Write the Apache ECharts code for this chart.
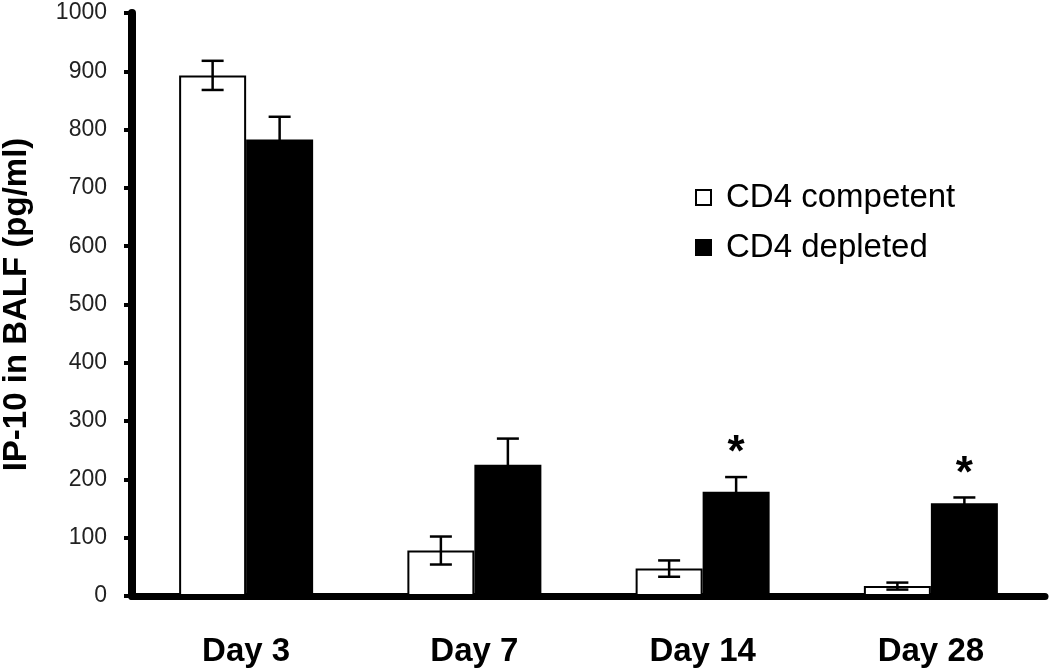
<!DOCTYPE html>
<html>
<head>
<meta charset="utf-8">
<script src="https://cdn.jsdelivr.net/npm/echarts@6/dist/echarts.min.js"></script>
<style>html,body{margin:0;padding:0;background:#fff;}#c{width:1050px;height:669px;}</style>
</head>
<body>
<div id="c"></div>
<script>
var categories = ['Day 3', 'Day 7', 'Day 14', 'Day 28'];
var competentMean = [893, 78, 47, 17];
var competentErr = [25, 24, 14, 6];
var depletedMean = [783, 225, 179, 159];
var depletedErr = [39, 45, 25, 10];
var depletedSig = [0, 0, 1, 1];
var yTicks = [0, 100, 200, 300, 400, 500, 600, 700, 800, 900, 1000];

var FONT = "'Liberation Sans', Arial, sans-serif";
var BAR_W = 67;

function errData(means, errs, sig) {
  return means.map(function (m, i) { return [i, m, errs[i], sig ? sig[i] : 0]; });
}
function errRender(offset) {
  return function (params, api) {
    var i = api.value(0), m = api.value(1), e = api.value(2), s = api.value(3);
    var top = api.coord([i, m + e]);
    var bot = api.coord([i, m - e]);
    var x = top[0] + offset;
    var cw = 11;
    var children = [
      { type: 'line', shape: { x1: x, y1: top[1], x2: x, y2: bot[1] }, style: { stroke: '#000', lineWidth: 2.5 } },
      { type: 'line', shape: { x1: x - cw, y1: top[1], x2: x + cw, y2: top[1] }, style: { stroke: '#000', lineWidth: 2.5 } },
      { type: 'line', shape: { x1: x - cw, y1: bot[1], x2: x + cw, y2: bot[1] }, style: { stroke: '#000', lineWidth: 2.5 } }
    ];
    if (s) {
      children.push({ type: 'text', x: x, y: top[1] - 23, style: { text: '*', font: 'bold 44px ' + FONT, fill: '#000', align: 'center', verticalAlign: 'middle' } });
    }
    return { type: 'group', children: children };
  };
}

var chart = echarts.init(document.getElementById('c'));
chart.setOption({
  animation: false,
  backgroundColor: '#fff',
  grid: { left: 132, right: 5, top: 13, bottom: 73, containLabel: false, outerBoundsMode: 'none' },
  legend: {
    orient: 'vertical', left: 690, top: 176, itemWidth: 15, itemHeight: 15, itemGap: 17,
    icon: 'rect',
    textStyle: { fontFamily: FONT, fontSize: 33, color: '#000', padding: [0, 0, 0, 10] },
    data: ['CD4 competent', 'CD4 depleted']
  },
  xAxis: {
    type: 'category', data: categories,
    axisLine: { lineStyle: { color: '#000', width: 7 } },
    axisTick: { length: 12, lineStyle: { color: '#000', width: 6 } },
    axisLabel: { color: '#000', fontFamily: FONT, fontSize: 33, fontWeight: 'bold', margin: 39 },
    splitLine: { show: false }
  },
  yAxis: {
    type: 'value', min: 0, max: 1000, interval: 100,
    name: 'IP-10 in BALF (pg/ml)', nameLocation: 'middle', nameGap: 99,
    nameTextStyle: { color: '#000', fontFamily: FONT, fontSize: 33, fontWeight: 'bold' },
    axisLine: { show: true, lineStyle: { color: '#000', width: 8 } },
    axisTick: { show: true, length: 8, lineStyle: { color: '#000', width: 4 } },
    axisLabel: { color: '#222', fontFamily: FONT, fontSize: 23, margin: 25,
      formatter: function (v) { return yTicks.indexOf(v) >= 0 ? String(v) : ''; } },
    splitLine: { show: false }
  },
  series: [
    { name: 'CD4 competent', type: 'bar', data: competentMean, barWidth: BAR_W, barGap: '0%',
      itemStyle: { color: '#fff', borderColor: '#000', borderWidth: 2 }, z: 2 },
    { name: 'CD4 depleted', type: 'bar', data: depletedMean, barWidth: BAR_W, barGap: '0%',
      itemStyle: { color: '#000', borderColor: '#000', borderWidth: 2 }, z: 2 },
    { name: 'errC', type: 'custom', data: errData(competentMean, competentErr), renderItem: errRender(-BAR_W / 2), z: 3, silent: true },
    { name: 'errD', type: 'custom', data: errData(depletedMean, depletedErr, depletedSig), renderItem: errRender(BAR_W / 2), z: 3, silent: true }
  ]
});
</script>
</body>
</html>
